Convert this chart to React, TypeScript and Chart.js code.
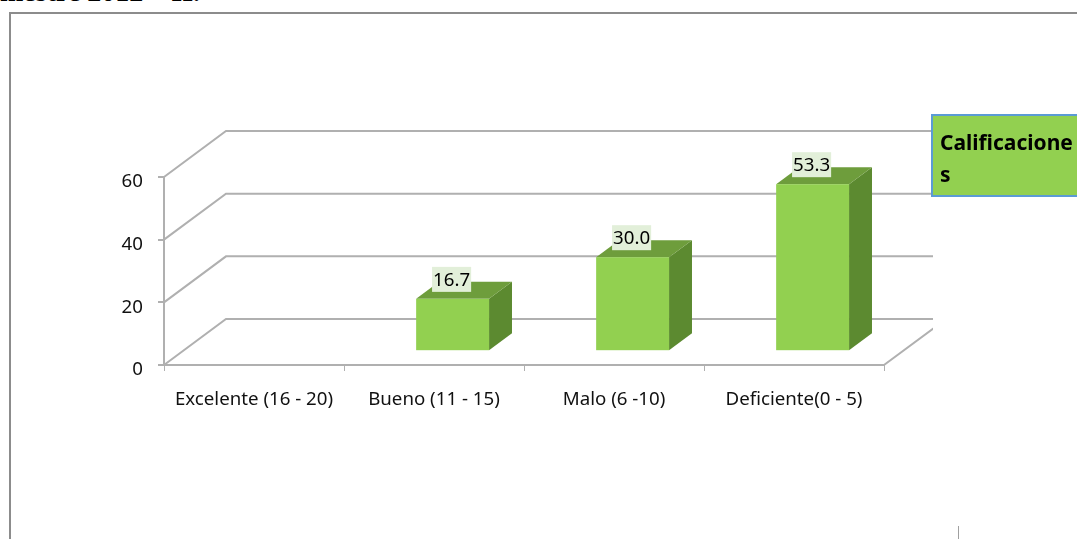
import React, { useEffect, useRef } from "react";
import { Chart, registerables } from "chart.js";

Chart.register(...registerables);

const categories = ["Excelente (16 - 20)", "Bueno (11 - 15)", "Malo (6 -10)", "Deficiente(0 - 5)"];
const values: (number | null)[] = [null, 16.7, 30.0, 53.3];
const yTicks = [0, 20, 40, 60];
const seriesName = "Calificaciones";
const headerText = "mestre 2012 – II.";

const FONT = '"Noto Sans", sans-serif';
const WALL_DX = 62;
const WALL_DY = -46;
const BAR_FRONT = 0.3;
const BAR_BACK = 0.67;
const GRID = "#b0b0b0";

const threeD = {
  id: "threeD",
  beforeDraw(chart: any) {
    const ctx = chart.ctx;
    const xs = chart.scales.x;
    const ys = chart.scales.y;
    // outer frame
    ctx.save();
    ctx.strokeStyle = "#8c8c8c";
    ctx.lineWidth = 2;
    ctx.beginPath();
    ctx.moveTo(10, chart.height);
    ctx.lineTo(10, 13);
    ctx.lineTo(chart.width, 13);
    ctx.stroke();
    ctx.lineWidth = 1;
    ctx.strokeStyle = "#a0a0a0";
    ctx.beginPath();
    ctx.moveTo(958.5, 526);
    ctx.lineTo(958.5, chart.height);
    ctx.stroke();
    ctx.restore();

    // walls
    const left = xs.left;
    const right = xs.right;
    ctx.save();
    ctx.beginPath();
    ctx.rect(0, 0, right + 49, chart.height);
    ctx.clip();
    ctx.strokeStyle = GRID;
    ctx.lineWidth = 2;
    ctx.beginPath();
    yTicks.forEach((v) => {
      const py = ys.getPixelForValue(v);
      ctx.moveTo(left, py);
      ctx.lineTo(left + WALL_DX, py + WALL_DY);
      ctx.lineTo(right + WALL_DX, py + WALL_DY);
    });
    const y0 = ys.getPixelForValue(0);
    ctx.moveTo(right, y0);
    ctx.lineTo(right + WALL_DX, y0 + WALL_DY);
    ctx.stroke();
    ctx.restore();
  },
  afterDatasetsDraw(chart: any) {
    const ctx = chart.ctx;
    const meta = chart.getDatasetMeta(0);
    const fdx = BAR_FRONT * WALL_DX;
    const fdy = BAR_FRONT * WALL_DY;
    const ddx = (BAR_BACK - BAR_FRONT) * WALL_DX;
    const ddy = (BAR_BACK - BAR_FRONT) * WALL_DY;
    ctx.save();
    meta.data.forEach((el: any, i: number) => {
      const v = values[i];
      if (v == null) return;
      const { x, y, base, width } = el.getProps(["x", "y", "base", "width"], true);
      const L = x - width / 2 + fdx;
      const R = x + width / 2 + fdx;
      const T = y + fdy;
      const B = base + fdy;
      // side
      ctx.fillStyle = "#5c8a30";
      ctx.beginPath();
      ctx.moveTo(R, T);
      ctx.lineTo(R + ddx, T + ddy);
      ctx.lineTo(R + ddx, B + ddy);
      ctx.lineTo(R, B);
      ctx.closePath();
      ctx.fill();
      // top
      ctx.fillStyle = "#6e9d3c";
      ctx.beginPath();
      ctx.moveTo(L, T);
      ctx.lineTo(R, T);
      ctx.lineTo(R + ddx, T + ddy);
      ctx.lineTo(L + ddx, T + ddy);
      ctx.closePath();
      ctx.fill();
      // front
      ctx.fillStyle = "#92d050";
      ctx.fillRect(L, T, R - L, B - T);
      // label
      const txt = v.toFixed(1);
      ctx.font = `18.7px ${FONT}`;
      const tw = ctx.measureText(txt).width;
      const cx = (L + R) / 2 - 1;
      const bw = tw + 2;
      const bh = 25;
      const by = T - 7 - bh;
      ctx.fillStyle = "#e2efd9";
      ctx.fillRect(cx - bw / 2, by, bw, bh);
      ctx.fillStyle = "#000";
      ctx.textAlign = "center";
      ctx.textBaseline = "middle";
      ctx.fillText(txt, cx, by + bh / 2 + 1);
    });
    ctx.restore();

    // legend box
    ctx.save();
    const lx = 932, ly = 115, lw = 160, lh = 81;
    ctx.fillStyle = "#92d050";
    ctx.fillRect(lx, ly, lw, lh);
    ctx.strokeStyle = "#5b9bd5";
    ctx.lineWidth = 2;
    ctx.strokeRect(lx, ly, lw, lh);
    ctx.fillStyle = "#000";
    ctx.font = `bold 21px ${FONT}`;
    ctx.textAlign = "left";
    ctx.textBaseline = "alphabetic";
    const label = chart.data.datasets[0].label as string;
    const maxW = 134;
    const lines: string[] = [];
    let cur = "";
    for (const ch of label) {
      if (ctx.measureText(cur + ch).width > maxW && cur) {
        lines.push(cur);
        cur = ch;
      } else cur += ch;
    }
    if (cur) lines.push(cur);
    lines.forEach((ln, k) => ctx.fillText(ln, 940, 150 + k * 32));
    ctx.restore();
  },
};

export default function App() {
  const ref = useRef<HTMLCanvasElement>(null);
  useEffect(() => {
    if (!ref.current) return;
    const chart = new Chart(ref.current, {
      type: "bar",
      data: {
        labels: categories,
        datasets: [
          {
            label: seriesName,
            data: values,
            backgroundColor: "rgba(0,0,0,0)",
            barPercentage: 0.405,
            categoryPercentage: 1,
          },
        ],
      },
      options: {
        responsive: false,
        animation: false,
        layout: { padding: { left: 0, right: 193, top: 177, bottom: 114 } },
        plugins: { legend: { display: false }, tooltip: { enabled: false } },
        scales: {
          x: {
            clip: false,
            afterFit: (s: any) => {
              s.height = 60;
            },
            grid: { drawOnChartArea: false, drawTicks: true, tickLength: 6, color: GRID, lineWidth: 1 },
            border: { display: true, color: GRID, width: 2 },
            ticks: { font: { family: "Noto Sans", size: 18.7 }, color: "#111", padding: 17, maxRotation: 0, autoSkip: false },
          },
          y: {
            clip: false,
            min: 0,
            max: 60,
            afterFit: (s: any) => {
              s.width = 164;
            },
            grid: { drawOnChartArea: false, drawTicks: true, tickLength: 6, color: GRID, lineWidth: 2 },
            border: { display: true, color: GRID, width: 2 },
            ticks: {
              stepSize: 20,
              font: { family: "Noto Sans", size: 18.7 },
              color: "#111",
              padding: 15,
              labelOffset: 5,
            },
          },
        },
      },
      plugins: [threeD],
    });
    return () => chart.destroy();
  }, []);
  return (
    <div style={{ position: "absolute", left: 0, top: 0, width: 1077, height: 539, overflow: "hidden", background: "#fff" }}>
      <div
        style={{
          position: "absolute",
          left: 0,
          top: -22,
          fontFamily: '"Liberation Serif", serif',
          fontWeight: "bold",
          fontSize: 28,
          lineHeight: "28px",
          whiteSpace: "nowrap",
          color: "#000",
        }}
      >
        {headerText}
      </div>
      <canvas ref={ref} width={1077} height={539} style={{ position: "absolute", left: 0, top: 0, width: 1077, height: 539 }} />
    </div>
  );
}
